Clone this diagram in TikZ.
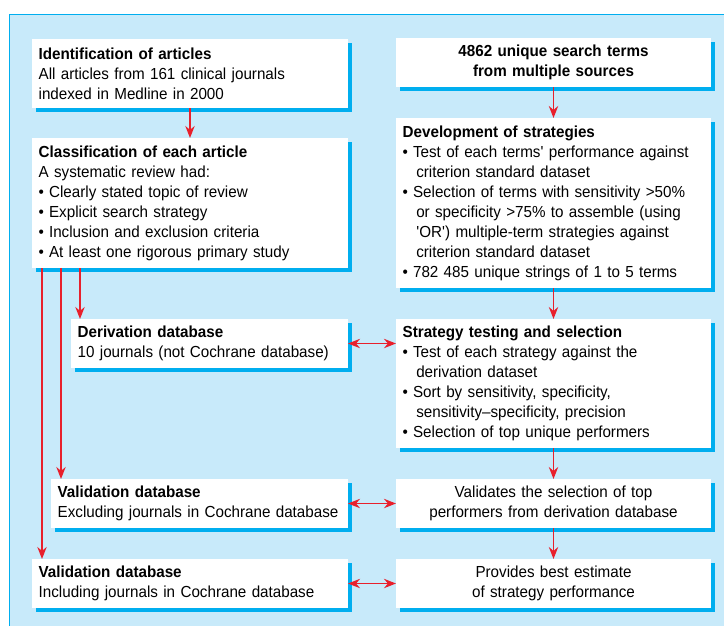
\documentclass[tikz,border=0pt]{standalone}
\usepackage{fontspec}
\setmainfont{Liberation Sans}[FakeStretch=0.95]
\usetikzlibrary{arrows.meta}
\usetikzlibrary{shadows}
\definecolor{panelblue}{RGB}{200,234,250}
\definecolor{edgecyan}{RGB}{0,174,239}
\definecolor{flowred}{RGB}{232,32,44}
\newcommand{\itm}[1]{\par\hangindent=0.85em\hangafter=1\makebox[0.65em][l]{\textbullet}#1}
\hyphenpenalty=10000

\begin{document}
\begin{tikzpicture}[x=0.75pt,y=0.75pt,yscale=-1,xscale=1,
  box/.style={anchor=north west, fill=white, inner xsep=5pt, inner ysep=0pt, outer sep=0pt,
    drop shadow={shadow xshift=3pt, shadow yshift=-3pt, fill=edgecyan, opacity=1},
    font=\fontsize{12}{15}\selectfont, align=left},
  flow/.style={draw=flowred, line width=1.3pt, -{Stealth[length=9pt,width=7pt]}},
  twoway/.style={draw=flowred, line width=1.3pt, {Stealth[length=9pt,width=7pt]}-{Stealth[length=9pt,width=7pt]}}]
\useasboundingbox (0,0) rectangle (724,626);

%Shape: Rectangle
\fill [panelblue] (9,14) rectangle (724,626);
\draw [edgecyan, line width=0.75pt] (9,626) -- (9,14) -- (724,14);

% Text Node
\node [box, text width=227pt, minimum height=51.75pt] (ident) at (32,39) {\textbf{Identification of articles}\par All articles from 161 clinical journals\par indexed in Medline in 2000};
% Text Node
\node [box, text width=227pt, minimum height=97.5pt] (classif) at (32,138) {\textbf{Classification of each article}\par A systematic review had:\itm{Clearly stated topic of review}\itm{Explicit search strategy}\itm{Inclusion and exclusion criteria}\itm{At least one rigorous primary study}};
% Text Node
\node [box, text width=226.25pt, minimum height=36.75pt, align=center, font=\fontsize{12}{15}\selectfont\bfseries] (terms) at (396,38) {4862 unique search terms\\from multiple sources};
% Text Node
\node [box, text width=226.25pt, minimum height=127.5pt] (develop) at (396,118) {\textbf{Development of strategies}\itm{Test of each terms\textquotesingle\ performance against\newline criterion standard dataset}\itm{Selection of terms with sensitivity >50\%\newline or specificity >75\% to assemble (using\newline \textquotesingle OR\textquotesingle) multiple-term strategies against\newline criterion standard dataset}\itm{782 485 unique strings of 1 to 5 terms}};
% Text Node
\node [box, text width=197.75pt, minimum height=36.75pt] (deriv) at (71,319) {\textbf{Derivation database}\par 10 journals (not Cochrane database)};
% Text Node
\node [box, text width=226.25pt, minimum height=96.75pt] (strat) at (396,319) {\textbf{Strategy testing and selection}\itm{Test of each strategy against the\newline derivation dataset}\itm{Sort by sensitivity, specificity,\newline sensitivity--specificity, precision}\itm{Selection of top unique performers}};
% Text Node
\node [box, text width=212.75pt, minimum height=36.75pt] (valexcl) at (51,479) {\textbf{Validation database}\par Excluding journals in Cochrane database};
% Text Node
\node [box, text width=226.25pt, minimum height=36.75pt, align=center] (validates) at (396,479) {Validates the selection of top\\performers from derivation database};
% Text Node
\node [box, text width=227pt, minimum height=36.75pt] (valincl) at (32,559) {\textbf{Validation database}\par Including journals in Cochrane database};
% Text Node
\node [box, text width=226.25pt, minimum height=36.75pt, align=center] (provides) at (396,559) {Provides best estimate\\of strategy performance};

%Straight Lines
\draw [flow] (ident) -- (classif);
\draw [flow] (terms) -- (develop);
\draw [flow] (develop) -- (strat);
\draw [flow] (strat) -- (validates);
\draw [flow] (validates) -- (provides);
%Straight Lines
\draw [flow] ([xshift=36pt]classif.south west) -- ([xshift=36pt]classif.south west |- deriv.north);
\draw [flow] ([xshift=21.75pt]classif.south west) -- ([xshift=21.75pt]classif.south west |- valexcl.north);
\draw [flow] ([xshift=7.5pt]classif.south west) -- ([xshift=7.5pt]classif.south west |- valincl.north);
%Straight Lines
\draw [twoway] (deriv.east) -- (deriv.east -| strat.west);
\draw [twoway] (valexcl) -- (validates);
\draw [twoway] (valincl) -- (provides);

\end{tikzpicture}
\end{document}
